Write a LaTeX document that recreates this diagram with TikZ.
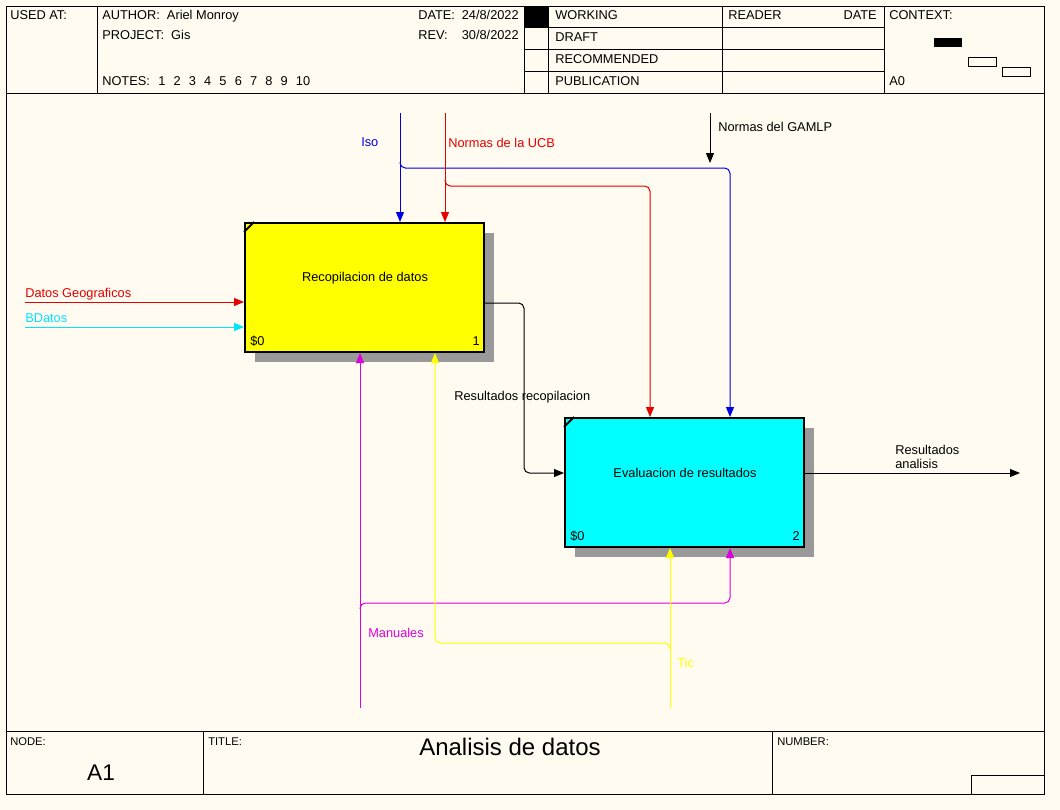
\documentclass[tikz,border=0pt]{standalone}
\usepackage{fontspec}
\setmainfont{Liberation Sans}
\usetikzlibrary{arrows.meta,shadows}
\definecolor{paper}{RGB}{255,251,240}
\definecolor{idefblue}{RGB}{0,0,230}
\definecolor{idefred}{RGB}{230,0,0}
\definecolor{idefcyan}{RGB}{0,230,255}
\definecolor{idefmag}{RGB}{220,0,220}
\definecolor{idefyel}{RGB}{255,255,0}
\definecolor{boxyel}{RGB}{255,255,0}
\definecolor{boxcyan}{RGB}{0,255,255}

\begin{document}
\begin{tikzpicture}[x=0.75pt, y=-0.75pt,
  every node/.style={font=\fontsize{9.6}{12}\selectfont, inner sep=0pt},
  lbl/.style={anchor=west, text height=7pt, text depth=2pt},
  small/.style={lbl, font=\fontsize{8.4}{10}\selectfont},
  frm/.style={line width=0.75pt},
  actbox/.style={draw, line width=1.5pt, minimum width=179.25pt, minimum height=96.75pt,
    drop shadow={shadow xshift=7.5pt, shadow yshift=-7.5pt, fill=black!40, opacity=1}},
  arr/.style={line width=0.75pt, -{Triangle[length=7.5pt,width=6pt]}},
  pipe/.style={arr, rounded corners=4pt}]
  \useasboundingbox (0,0) rectangle (1060,810);
  \fill[paper] (0,0) rectangle (1060,810);

  % frame
  \draw[frm] (6,6) rectangle (1044,794);
  \draw[frm] (6,93) -- (1044,93) (6,731) -- (1044,731);
  \draw[frm] (97,6) -- (97,93) (524,6) -- (524,93) (548,6) -- (548,93)
    (722,6) -- (722,93) (884,6) -- (884,93);
  \draw[frm] (524,27) -- (884,27) (524,49) -- (884,49) (524,71) -- (884,71);
  \fill (524,6) rectangle (548,27);
  \draw[frm] (203,731) -- (203,794) (772,731) -- (772,794);
  \draw[frm] (971,794) -- (971,775) -- (1044,775);

  % header
  \node[lbl] (usedat) at (10,16) {USED AT:};
  \node[lbl] (author) at (102,16) {AUTHOR:\ \ Ariel Monroy};
  \node[lbl] (project) at (102,36) {PROJECT:\ \ Gis};
  \node[lbl] (notes) at (102,82) {NOTES:};
  \foreach \n [count=\i] in {1,...,10}
    \node[lbl] (note\i) at (158+15.3*\i-15.3,82) {\n};
  \node[lbl] (date) at (418,16) {DATE:};
  \node[lbl, anchor=east] (dateval) at (519,16) {24/8/2022};
  \node[lbl] (rev) at (418,36) {REV:};
  \node[lbl, anchor=east] (revval) at (519,36) {30/8/2022};
  \node[lbl] (working) at (555,16) {WORKING};
  \node[lbl] (draft) at (555,38) {DRAFT};
  \node[lbl] (recom) at (555,60) {RECOMMENDED};
  \node[lbl] (public) at (555,82) {PUBLICATION};
  \node[lbl] (reader) at (728,16) {READER};
  \node[lbl, anchor=east] (rdate) at (877,16) {DATE};
  \node[lbl] (context) at (889,16) {CONTEXT:};
  \node[lbl] (ctxnode) at (889,82) {A0};
  \fill (934,38) rectangle (962,47);
  \draw[frm] (968,57) rectangle (996,66);
  \draw[frm] (1002,67) rectangle (1030,76);

  % footer
  \node[small] (nodelbl) at (10,742) {NODE:};
  \node[small] (titlelbl) at (208,742) {TITLE:};
  \node[small] (numlbl) at (777,742) {NUMBER:};
  \node[font=\fontsize{17}{20}\selectfont] (nodeval) at (101,773) {A1};
  \node[font=\fontsize{18}{21}\selectfont] (title) at (510,747) {Analisis de datos};

  % activities
  \node[actbox, fill=boxyel] (recop) at (364.5,287.5) {};
  \node (recopName) at (365,278) {Recopilacion de datos};
  \node[lbl] (recopS) at (250,342) {\$0};
  \node[lbl, anchor=east] (recopNum) at (480,342) {1};
  \draw[line width=1.5pt] ([yshift=-7.5pt]recop.north west) -- ([xshift=7.5pt]recop.north west);

  \node[actbox, fill=boxcyan] (evalr) at (684.5,482.5) {};
  \node (evalrName) at (685,473) {Evaluacion de resultados};
  \node[lbl] (evalrS) at (570,537) {\$0};
  \node[lbl, anchor=east] (evalrNum) at (800,537) {2};
  \draw[line width=1.5pt] ([yshift=-7.5pt]evalr.north west) -- ([xshift=7.5pt]evalr.north west);

  % controls
  \coordinate (isoSrc) at (400,113);
  \coordinate (isoTurn) at (730,168);
  \draw[arr, idefblue] (isoSrc) -- (isoSrc |- recop.north);
  \draw[pipe, idefblue] (400,162) -- (isoSrc |- isoTurn) -- (isoTurn) -- (isoTurn |- evalr.north);
  \node[lbl, text=idefblue] (isoLbl) at (361,143) {Iso};

  \coordinate (ucbSrc) at (445,113);
  \coordinate (ucbTurn) at (650,186);
  \draw[arr, idefred] (ucbSrc) -- (ucbSrc |- recop.north);
  \draw[pipe, idefred] (445,180) -- (ucbSrc |- ucbTurn) -- (ucbTurn) -- (ucbTurn |- evalr.north);
  \node[lbl, text=idefred] (ucbLbl) at (448,144) {Normas de la UCB};

  \coordinate (gamlpSrc) at (710,113);
  \coordinate (gamlpEnd) at (710,163);
  \draw[arr] (gamlpSrc) -- (gamlpEnd);
  \node[lbl] (gamlpLbl) at (718,128) {Normas del GAMLP};

  % inputs
  \coordinate (geoSrc) at (25,302);
  \draw[arr, idefred] (geoSrc) -- (geoSrc -| recop.west);
  \node[lbl, text=idefred] (geoLbl) at (25,294) {Datos Geograficos};
  \coordinate (bdSrc) at (25,327);
  \draw[arr, idefcyan] (bdSrc) -- (bdSrc -| recop.west);
  \node[lbl, text=idefcyan] (bdLbl) at (25,319) {BDatos};

  % outputs
  \coordinate (rrBend) at (524,303);
  \coordinate (rrIn) at (524,473);
  \draw[pipe] (rrBend -| recop.east) -- (rrBend) -- (rrIn) -- (rrIn -| evalr.west);
  \node[lbl] (rrLbl) at (454,397) {Resultados recopilacion};
  \coordinate (outEnd) at (1020,473);
  \draw[arr] (outEnd -| evalr.east) -- (outEnd);
  \node[lbl, align=left, text depth=0pt] (outLbl) at (895,464) {Resultados\\[-1pt]analisis};

  % mechanisms
  \coordinate (manSrc) at (360,708);
  \coordinate (manTurn) at (730,603);
  \draw[arr, idefmag] (manSrc) -- (manSrc |- recop.south);
  \draw[pipe, idefmag] (360,609) -- (manSrc |- manTurn) -- (manTurn) -- (manTurn |- evalr.south);
  \node[lbl, text=idefmag] (manLbl) at (368,634) {Manuales};

  \coordinate (ticSrc) at (670,708);
  \coordinate (ticTurn) at (435,643);
  \draw[arr, idefyel] (ticSrc) -- (ticSrc |- evalr.south);
  \draw[pipe, idefyel] (670,650) -- (ticSrc |- ticTurn) -- (ticTurn) -- (ticTurn |- recop.south);
  \node[lbl, text=idefyel] (ticLbl) at (677,664) {Tic};
\end{tikzpicture}
\end{document}
